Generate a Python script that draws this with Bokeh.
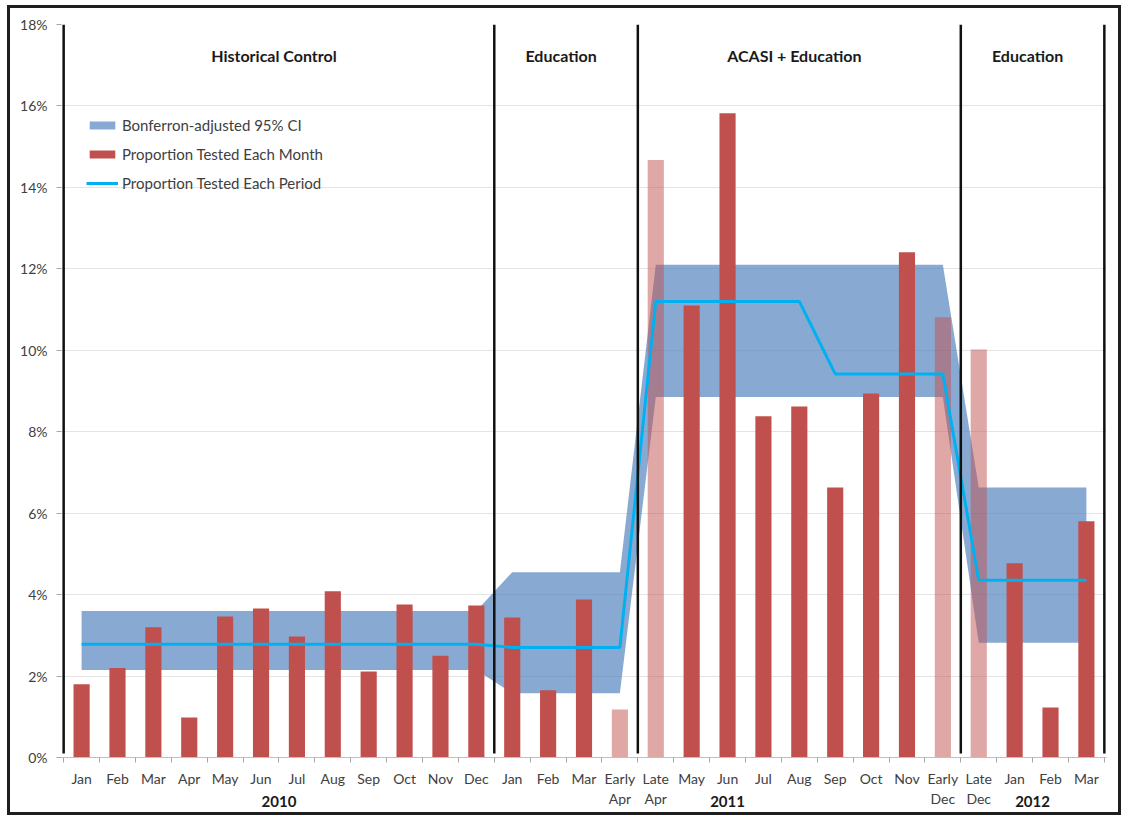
from bokeh.plotting import figure
from bokeh.models import (Range1d, FixedTicker, PrintfTickFormatter, Legend, LegendItem,
                          LinearAxis, ColumnDataSource)
from bokeh.core.properties import value
from bokeh.embed import file_html
from bokeh.resources import INLINE

# ---------------- data ----------------
categories = ["Jan", "Feb", "Mar", "Apr", "May", "Jun", "Jul", "Aug", "Sep", "Oct", "Nov", "Dec",
              "Jan", "Feb", "Mar", "Early\nApr", "Late\nApr", "May", "Jun", "Jul", "Aug", "Sep",
              "Oct", "Nov", "Early\nDec",
              "Late\nDec", "Jan", "Feb", "Mar"]
monthly_pct = [1.80, 2.20, 3.20, 0.98, 3.46, 3.66, 2.97, 4.08, 2.11, 3.76, 2.50, 3.73,
               3.44, 1.65, 3.88, 1.18, 14.67, 11.10, 15.82, 8.38, 8.62, 6.63, 8.94, 12.41, 10.81,
               10.02, 4.77, 1.23, 5.80]
partial_month = [False, False, False, False, False, False, False, False, False, False, False, False,
                 False, False, False, True, True, False, False, False, False, False, False, False, True,
                 True, False, False, False]
period_pct = [2.78, 2.78, 2.78, 2.78, 2.78, 2.78, 2.78, 2.78, 2.78, 2.78, 2.78, 2.78,
              2.70, 2.70, 2.70, 2.70, 11.20, 11.20, 11.20, 11.20, 11.20, 9.42, 9.42, 9.42, 9.42,
              4.35, 4.35, 4.35, 4.35]
ci_low = [2.15, 2.15, 2.15, 2.15, 2.15, 2.15, 2.15, 2.15, 2.15, 2.15, 2.15, 2.15,
          1.58, 1.58, 1.58, 1.58, 8.85, 8.85, 8.85, 8.85, 8.85, 8.85, 8.85, 8.85, 8.85,
          2.82, 2.82, 2.82, 2.82]
ci_high = [3.60, 3.60, 3.60, 3.60, 3.60, 3.60, 3.60, 3.60, 3.60, 3.60, 3.60, 3.60,
           4.55, 4.55, 4.55, 4.55, 12.10, 12.10, 12.10, 12.10, 12.10, 12.10, 12.10, 12.10, 12.10,
           6.63, 6.63, 6.63, 6.63]
period_names = ["Historical Control", "Education", "ACASI + Education", "Education"]
period_bounds = [0, 12, 16, 25, 29]
years = ["2010", "2011", "2012"]
year_bounds = [0, 12, 25, 29]
y_ticks = [0, 2, 4, 6, 8, 10, 12, 14, 16, 18]

# ---------------- figure ----------------
FONT = "Lato"
RED = "#C0504D"
BLUE = "#4F81BD"
CYAN = "#00B0F0"

n = len(categories)
xc = [i + 0.5 for i in range(n)]

p = figure(width=1114, height=810, output_backend="svg", toolbar_location=None,
           x_range=Range1d(-0.06, n + 0.06), y_range=Range1d(0, 18),
           min_border_left=51, min_border_right=18, min_border_top=16, min_border_bottom=61,
           background_fill_color="white", border_fill_color="white",
           styles={"border": "3px solid #1e1e1e", "margin-left": "7px", "margin-top": "5px"})
p.outline_line_color = None
p.xgrid.grid_line_color = None
p.ygrid.grid_line_color = "#E4E4E4"
p.ygrid.grid_line_width = 1

# CI band
band = p.varea(x=xc, y1=ci_low, y2=ci_high, fill_color=BLUE, fill_alpha=0.68)

# bars
full_src = ColumnDataSource(dict(x=[x for x, f in zip(xc, partial_month) if not f],
                                 top=[v for v, f in zip(monthly_pct, partial_month) if not f]))
part_src = ColumnDataSource(dict(x=[x for x, f in zip(xc, partial_month) if f],
                                 top=[v for v, f in zip(monthly_pct, partial_month) if f]))
bars = p.vbar(x="x", top="top", width=0.45, bottom=0, source=full_src,
              fill_color=RED, line_color=None)
p.vbar(x="x", top="top", width=0.45, bottom=0, source=part_src,
       fill_color=RED, fill_alpha=0.5, line_color=None)

# period line
line = p.line(x=xc, y=period_pct, line_color=CYAN, line_width=3)

# period separators
p.segment(x0=period_bounds, x1=period_bounds, y0=[0.1] * len(period_bounds),
          y1=[18] * len(period_bounds), line_color="#111111", line_width=2.5)

# period headers
hx = [(a + b) / 2 for a, b in zip(period_bounds[:-1], period_bounds[1:])]
p.text(x=hx, y=[17.25] * len(hx), text=period_names, text_font=value(FONT),
       text_font_style="bold", text_font_size="16px", text_align="center",
       text_baseline="middle", text_color="#1a1a1a", x_offset=-5)

# month axis
p.xaxis.ticker = FixedTicker(ticks=xc, minor_ticks=list(range(n + 1)))
p.xaxis.major_label_overrides = {x: c for x, c in zip(xc, categories)}
p.xaxis.major_tick_out = 0
p.xaxis.major_tick_in = 0
p.xaxis.minor_tick_out = 5
p.xaxis.minor_tick_in = 0
p.xaxis.minor_tick_line_color = "#A6A6A6"
p.xaxis.axis_line_color = "#BFBFBF"
p.xaxis.major_label_text_font = FONT
p.xaxis.major_label_text_font_size = "14px"
p.xaxis.major_label_text_color = "#404040"
p.xaxis.major_label_standoff = 7

# year axis (second row under the months)
year_centers = [(a + b) / 2 for a, b in zip(year_bounds[:-1], year_bounds[1:])]
year_axis = LinearAxis(ticker=FixedTicker(ticks=year_centers),
                       major_label_overrides={x: y for x, y in zip(year_centers, years)},
                       axis_line_color=None, major_tick_line_color=None,
                       minor_tick_line_color=None, major_tick_out=0, major_tick_in=0,
                       major_label_standoff=-14, major_label_text_font=FONT,
                       major_label_text_font_style="bold", major_label_text_font_size="15px",
                       major_label_text_color="#1a1a1a")
p.add_layout(year_axis, "below")

# y axis
p.yaxis.ticker = FixedTicker(ticks=y_ticks)
p.yaxis.formatter = PrintfTickFormatter(format="%d%%")
p.yaxis.axis_line_color = None
p.yaxis.major_tick_out = 5
p.yaxis.major_tick_in = 0
p.yaxis.major_tick_line_color = "#A6A6A6"
p.yaxis.minor_tick_line_color = None
p.yaxis.major_label_text_font = FONT
p.yaxis.major_label_text_font_size = "14px"
p.yaxis.major_label_text_color = "#404040"
p.yaxis.major_label_standoff = 9

# legend
legend = Legend(items=[LegendItem(label="Bonferron-adjusted 95% CI", renderers=[band]),
                       LegendItem(label="Proportion Tested Each Month", renderers=[bars]),
                       LegendItem(label="Proportion Tested Each Period", renderers=[line])],
                location=(25, 565), padding=0, margin=0, spacing=11,
                glyph_width=32, glyph_height=10, label_height=18, label_standoff=4,
                label_text_font=FONT, label_text_font_size="15px", label_text_color="#404040",
                border_line_color=None, background_fill_alpha=0)
p.add_layout(legend)

open("out.html", "w").write(file_html(p, INLINE))
